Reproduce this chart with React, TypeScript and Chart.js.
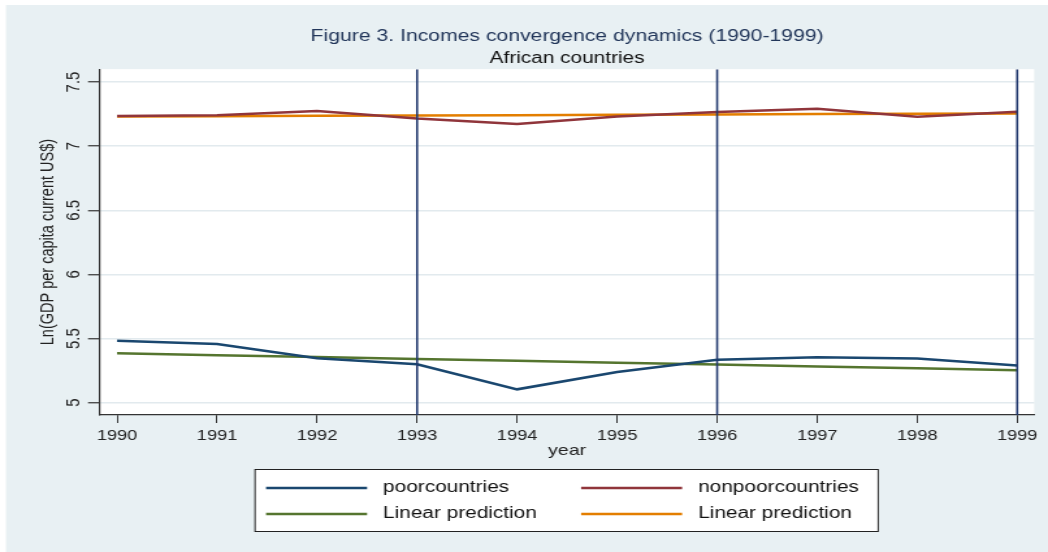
import React, { useEffect, useRef } from "react";
import { Chart, registerables } from "chart.js";

Chart.register(...registerables);

// ---- data ----
const YEARS = [1990, 1991, 1992, 1993, 1994, 1995, 1996, 1997, 1998, 1999];
const POOR = [5.483, 5.457, 5.346, 5.299, 5.104, 5.239, 5.335, 5.354, 5.345, 5.29];
const NONPOOR = [7.235, 7.24, 7.274, 7.215, 7.173, 7.231, 7.266, 7.291, 7.23, 7.268];
const POOR_FIT = [5.385, 5.37, 5.356, 5.341, 5.326, 5.312, 5.297, 5.282, 5.268, 5.253];
const NONPOOR_FIT = [7.23, 7.233, 7.236, 7.239, 7.241, 7.244, 7.247, 7.25, 7.252, 7.255];
const MARKER_YEARS = [1993, 1996, 1999];
const Y_TICKS = [5, 5.5, 6, 6.5, 7, 7.5];
const SERIES_LABELS = ["poorcountries", "nonpoorcountries", "Linear prediction", "Linear prediction"];

const TITLE = "Figure 3. Incomes convergence dynamics (1990-1999)";
const SUBTITLE = "African countries";
const Y_TITLE = "Ln(GDP per capita current US$)";
const X_TITLE = "year";

const X_MIN = 1989.83;
const X_MAX = 1999.17;
const Y_MIN = 4.904;
const Y_MAX = 7.6;

// ---- styling ----
const W = 1048;
const H = 552;
const K = 1.3; // horizontal stretch of the drawing
const CW = Math.round(W / K);
const FONT = "'Liberation Sans', Arial, Helvetica, sans-serif";
const BG = "#e8f0f3";
const NAVY = "#1a476f";
const MAROON = "#90353b";
const GREEN = "#55752f";
const ORANGE = "#e37e00";
const VLINE = "#22396e";
const SERIES_COLORS = [NAVY, MAROON, GREEN, ORANGE];

const px = (x: number) => x / K;

const backgroundPlugin = {
  id: "stataBackground",
  beforeDraw(chart: any) {
    const { ctx, width, height, chartArea } = chart;
    ctx.save();
    ctx.fillStyle = "#ffffff";
    ctx.fillRect(0, 0, width, height);
    ctx.fillStyle = BG;
    ctx.fillRect(px(6), 5, width, height);
    ctx.fillStyle = "#ffffff";
    ctx.fillRect(chartArea.left, chartArea.top, chartArea.right - chartArea.left, chartArea.bottom - chartArea.top);
    ctx.restore();
  },
};

const legendPlugin = {
  id: "boxLegend",
  afterDraw(chart: any) {
    const { ctx } = chart;
    const items = chart.data.datasets.filter((d: any) => d.label);
    const box = { l: px(255), r: px(878), t: 469.5, b: 531.5 };
    ctx.save();
    ctx.fillStyle = "#ffffff";
    ctx.fillRect(box.l, box.t, box.r - box.l, box.b - box.t);
    ctx.strokeStyle = "#222";
    ctx.lineWidth = 1;
    ctx.strokeRect(box.l, box.t, box.r - box.l, box.b - box.t);
    const cols = [
      { l0: px(266), l1: px(367), tx: px(383) },
      { l0: px(581), l1: px(682), tx: px(698) },
    ];
    const rows = [488, 514];
    ctx.font = `16px ${FONT}`;
    ctx.textBaseline = "middle";
    ctx.textAlign = "left";
    items.forEach((d: any, i: number) => {
      const c = cols[i % 2];
      const y = rows[Math.floor(i / 2)];
      ctx.strokeStyle = d.borderColor;
      ctx.lineWidth = 2.4;
      ctx.beginPath();
      ctx.moveTo(c.l0, y);
      ctx.lineTo(c.l1, y);
      ctx.stroke();
      ctx.fillStyle = "#111";
      ctx.fillText(d.label, c.tx, y);
    });
    ctx.restore();
  },
};

export default function App() {
  const ref = useRef<HTMLCanvasElement | null>(null);

  useEffect(() => {
    if (!ref.current) return;
    const toPoints = (ys: number[]) => YEARS.map((x, i) => ({ x, y: ys[i] }));
    const seriesData = [POOR, NONPOOR, POOR_FIT, NONPOOR_FIT];
    const datasets: any[] = seriesData.map((ys, i) => ({
      label: SERIES_LABELS[i],
      data: toPoints(ys),
      borderColor: SERIES_COLORS[i],
      backgroundColor: SERIES_COLORS[i],
      borderWidth: 2.5,
      pointRadius: 0,
      tension: 0,
      order: i < 2 ? 2 : 3,
    }));
    MARKER_YEARS.forEach((yr) => {
      datasets.push({
        label: "",
        data: [
          { x: yr, y: Y_MIN },
          { x: yr, y: Y_MAX },
        ],
        borderColor: VLINE,
        backgroundColor: VLINE,
        borderWidth: 1.6,
        pointRadius: 0,
        order: 0,
      });
    });

    const chart = new Chart(ref.current, {
      type: "line",
      data: { datasets },
      options: {
        animation: false,
        responsive: false,
        devicePixelRatio: 1,
        layout: { padding: { left: px(48) - 8.4, right: CW - px(1034), top: 0, bottom: H - 415 - 45 } },
        plugins: {
          legend: { display: false },
          tooltip: { enabled: false },
          title: {
            display: true,
            text: TITLE,
            fullSize: false,
            color: "#22365a",
            font: { family: FONT, size: 16.3, weight: "normal" },
            padding: { top: 27.2, bottom: 1.8 },
          },
          subtitle: {
            display: true,
            text: SUBTITLE,
            fullSize: false,
            color: "#111",
            font: { family: FONT, size: 16, weight: "normal" },
            padding: { top: 0, bottom: 1.4 },
          },
        },
        scales: {
          x: {
            type: "linear",
            min: X_MIN,
            max: X_MAX,
            afterBuildTicks: (s: any) => {
              s.ticks = YEARS.map((v) => ({ value: v }));
            },
            afterFit: (s: any) => {
              s.height = 45;
            },
            grid: { display: true, drawOnChartArea: false, drawTicks: true, tickLength: 8, tickColor: "#333", tickWidth: 1 },
            border: { display: true, color: "#333", width: 1.2 },
            ticks: {
              autoSkip: false,
              maxRotation: 0,
              minRotation: 0,
              padding: 5,
              color: "#222",
              font: { family: FONT, size: 14 },
              callback: (v: any) => String(v),
            },
            title: { display: true, text: X_TITLE, color: "#222", font: { family: FONT, size: 15 }, padding: 0 },
          },
          y: {
            type: "linear",
            min: Y_MIN,
            max: Y_MAX,
            afterBuildTicks: (s: any) => {
              s.ticks = Y_TICKS.map((v) => ({ value: v }));
            },
            afterFit: (s: any) => {
              s.width = px(100) - (px(48) - 8.4);
            },
            grid: { display: true, drawOnChartArea: true, color: "#e2eaee", lineWidth: 1.5, drawTicks: true, tickLength: px(12), tickColor: "#333", tickWidth: 1.2 },
            border: { display: true, color: "#333", width: 1.2 },
            ticks: {
              minRotation: 90,
              maxRotation: 90,
              crossAlign: "center",
              padding: 0,
              color: "#222",
              font: { family: FONT, size: 15 },
              callback: (v: any) => String(v),
            },
            title: { display: true, text: Y_TITLE, color: "#222", font: { family: FONT, size: 14.5 }, padding: 0 },
          },
        },
      } as any,
      plugins: [backgroundPlugin, legendPlugin],
    });
    return () => chart.destroy();
  }, []);

  return (
    <div style={{ position: "absolute", left: 0, top: 0, width: W, height: H, background: "#fff" }}>
      <canvas ref={ref} width={CW} height={H} style={{ width: `${W}px`, height: `${H}px`, display: "block" }} />
    </div>
  );
}
